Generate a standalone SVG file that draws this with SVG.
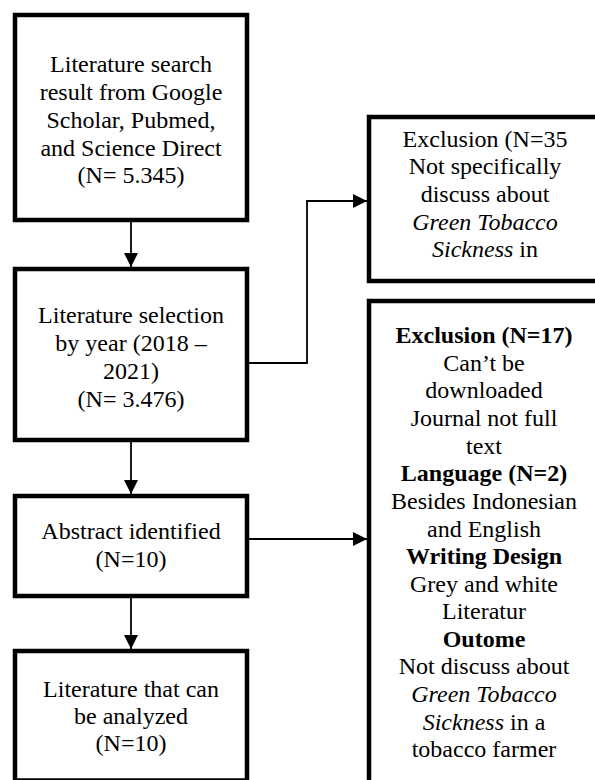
<svg xmlns="http://www.w3.org/2000/svg" width="595" height="780" viewBox="0 0 595 780">
<style>
.box{fill:#fff;stroke:#000;stroke-width:4.5;stroke-linejoin:miter}
.t{font-family:"Liberation Serif","Times New Roman",serif;font-size:24px;fill:#000;text-anchor:middle}
.b{font-weight:bold}
.i{font-style:italic}
.c{fill:none;stroke:#000;stroke-width:1.8}
</style>
<defs>
<marker id="ah" viewBox="0 0 14 14" refX="14" refY="7" markerWidth="14" markerHeight="14" markerUnits="userSpaceOnUse" orient="auto">
<path d="M0,0 L14,7 L0,14 Z" fill="#000"/>
</marker>
</defs>
<rect width="595" height="780" fill="#fff"/>
<g id="connectors">
<line class="c" x1="131" y1="222" x2="131" y2="267" marker-end="url(#ah)"/>
<line class="c" x1="131" y1="442" x2="131" y2="494" marker-end="url(#ah)"/>
<line class="c" x1="131" y1="598" x2="131" y2="649" marker-end="url(#ah)"/>
<polyline class="c" points="249,363 307,363 307,201 367,201" marker-end="url(#ah)"/>
<line class="c" x1="249" y1="539" x2="367" y2="539" marker-end="url(#ah)"/>
</g>
<g id="n1">
<rect class="box" x="15" y="15" width="232" height="205"/>
<text class="t" x="131" y="72">Literature search</text>
<text class="t" x="131" y="100">result from Google</text>
<text class="t" x="131" y="128">Scholar, Pubmed,</text>
<text class="t" x="131" y="155.5">and Science Direct</text>
<text class="t" x="131" y="183">(N= 5.345)</text>
</g>
<g id="n2">
<rect class="box" x="15" y="269" width="232" height="171"/>
<text class="t" x="131" y="323">Literature selection</text>
<text class="t" x="131" y="351">by year (2018 –</text>
<text class="t" x="131" y="379">2021)</text>
<text class="t" x="131" y="407">(N= 3.476)</text>
</g>
<g id="n3">
<rect class="box" x="15" y="496" width="232" height="100"/>
<text class="t" x="131" y="539">Abstract identified</text>
<text class="t" x="131" y="567">(N=10)</text>
</g>
<g id="n4">
<rect class="box" x="15" y="651" width="232" height="129.5"/>
<text class="t" x="131" y="697">Literature that can</text>
<text class="t" x="131" y="724">be analyzed</text>
<text class="t" x="131" y="751">(N=10)</text>
</g>
<g id="n5">
<rect class="box" x="369" y="117" width="232" height="164"/>
<text class="t" x="485" y="147">Exclusion (N=35</text>
<text class="t" x="485" y="174">Not specifically</text>
<text class="t" x="485" y="202">discuss about</text>
<text class="t i" x="485" y="230">Green Tobacco</text>
<text class="t" x="485" y="257"><tspan class="i">Sickness</tspan> in</text>
</g>
<g id="n6">
<rect class="box" x="369" y="301" width="232" height="490"/>
<text class="t b" x="484" y="343">Exclusion (N=17)</text>
<text class="t" x="484" y="371">Can’t be</text>
<text class="t" x="484" y="398">downloaded</text>
<text class="t" x="484" y="426">Journal not full</text>
<text class="t" x="484" y="454">text</text>
<text class="t b" x="484" y="481">Language (N=2)</text>
<text class="t" x="484" y="509">Besides Indonesian</text>
<text class="t" x="484" y="537">and English</text>
<text class="t b" x="484" y="564">Writing Design</text>
<text class="t" x="484" y="592">Grey and white</text>
<text class="t" x="484" y="619">Literatur</text>
<text class="t b" x="484" y="647">Outome</text>
<text class="t" x="484" y="674">Not discuss about</text>
<text class="t i" x="484" y="702">Green Tobacco</text>
<text class="t" x="484" y="730"><tspan class="i">Sickness</tspan> in a</text>
<text class="t" x="484" y="757">tobacco farmer</text>
</g>
</svg>
